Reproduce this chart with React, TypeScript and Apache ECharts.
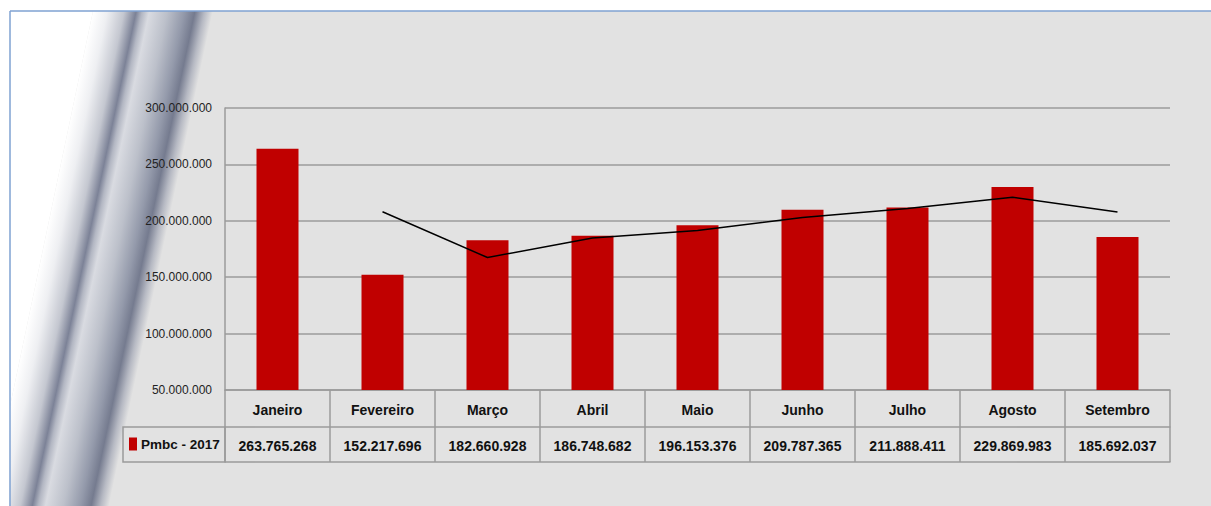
import React, { useEffect, useRef } from "react";
import * as echarts from "echarts";

const months = ["Janeiro", "Fevereiro", "Março", "Abril", "Maio", "Junho", "Julho", "Agosto", "Setembro"];
const seriesName = "Pmbc - 2017";
const pmbc2017 = [263765268, 152217696, 182660928, 186748682, 196153376, 209787365, 211888411, 229869983, 185692037];
// 2-period moving-average trendline
const trendLine = [null, 207990000, 167440000, 184700000, 191450000, 202970000, 210840000, 220880000, 207780000];
const yMin = 50000000;
const yMax = 300000000;
const yStep = 50000000;

const fmt = (n: number) => String(Math.round(n)).replace(/\B(?=(\d{3})+(?!\d))/g, ".");

const FONT = "'Liberation Sans', Arial, sans-serif";
const GRID = { left: 225, right: 1170, top: 108, bottom: 390 };
const ROW1 = 37;
const ROW2 = 72;
const W = 1211;
const H = 506;
const LINE = "#9b9b9b";
const BOLD_SIZE = 14;

export default function App() {
  const ref = useRef<HTMLDivElement>(null);
  useEffect(() => {
    if (!ref.current) return;
    const chart = echarts.init(ref.current, undefined, { renderer: "svg" });

    // decorative background band
    const s = 0.21;
    const bx = 93, by = 11, bw = 120;
    const dh = H - by;
    const gx2 = bx + bw / (1 + s * s);
    const gy2 = by + (bw * s) / (1 + s * s);
    const grad = new echarts.graphic.LinearGradient(
      bx, by, gx2, gy2,
      [
        { offset: 0, color: "#ffffff" },
        { offset: 0.12, color: "#eeeff2" },
        { offset: 0.26, color: "#c4c7d0" },
        { offset: 0.36, color: "#7c8297" },
        { offset: 0.41, color: "#b3b7c3" },
        { offset: 0.47, color: "#d9dbe1" },
        { offset: 0.62, color: "#bcc0ca" },
        { offset: 0.76, color: "#949aab" },
        { offset: 0.85, color: "#757b8f" },
        { offset: 0.93, color: "#b6b9c3" },
        { offset: 1, color: "#e2e2e2" },
      ],
      true
    );

    const option: any = {
      animation: false,
      textStyle: { fontFamily: FONT },
      graphic: [
        { type: "rect", z: -20, silent: true, shape: { x: 10, y: by, width: W - 10, height: dh }, style: { fill: "#e2e2e2" } },
        {
          type: "polygon", z: -19, silent: true,
          shape: { points: [[10, by], [bx, by], [bx - s * dh, H], [10, H]] },
          style: { fill: "#ffffff" },
        },
        {
          type: "polygon", z: -18, silent: true,
          shape: { points: [[bx, by], [bx + bw, by], [bx + bw - s * dh, H], [bx - s * dh, H]] },
          style: { fill: grad },
        },
        { type: "rect", z: -17, silent: true, shape: { x: 0, y: 0, width: 9.5, height: H }, style: { fill: "#ffffff" } },
        { type: "line", z: -16, silent: true, shape: { x1: 10, y1: by, x2: W, y2: by }, style: { stroke: "#7fa2d2", lineWidth: 1.5 } },
        { type: "line", z: -16, silent: true, shape: { x1: 10, y1: by, x2: 10, y2: H }, style: { stroke: "#7fa2d2", lineWidth: 1.5 } },
        {
          type: "rect", silent: true,
          shape: { x: 123, y: GRID.bottom + ROW1, width: GRID.left - 123, height: ROW2 - ROW1 },
          style: { fill: "none", stroke: LINE, lineWidth: 1.5 },
        },
      ],
      legend: {
        data: [seriesName],
        left: 129,
        top: GRID.bottom + ROW1 + 10,
        padding: 0,
        icon: "rect",
        itemWidth: 8,
        itemHeight: 13,
        itemGap: 4,
        textStyle: { fontFamily: FONT, fontWeight: "bold", fontSize: 13.5, color: "#111", padding: [0, 0, 0, -1] },
      },
      grid: { left: GRID.left, right: W - GRID.right, top: GRID.top, bottom: H - GRID.bottom, containLabel: false },
      xAxis: [
        {
          type: "category",
          data: months,
          position: "bottom",
          axisLine: { show: true, lineStyle: { color: LINE, width: 1.5 } },
          axisTick: { show: true, length: ROW2, lineStyle: { color: LINE, width: 1.5 } },
          axisLabel: { interval: 0, fontFamily: FONT, fontWeight: "bold", fontSize: BOLD_SIZE, color: "#111", margin: 20, verticalAlign: "middle" },
        },
        {
          type: "category",
          data: pmbc2017.map(fmt),
          position: "bottom",
          offset: ROW1,
          axisLine: { show: true, lineStyle: { color: LINE, width: 1.5 } },
          axisTick: { show: false },
          axisLabel: { interval: 0, fontFamily: FONT, fontWeight: "bold", fontSize: BOLD_SIZE, color: "#111", margin: 19, verticalAlign: "middle" },
        },
        {
          type: "category",
          data: months,
          position: "bottom",
          offset: ROW2,
          axisLine: { show: true, lineStyle: { color: LINE, width: 1.5 } },
          axisTick: { show: false },
          axisLabel: { show: false },
        },
      ],
      yAxis: {
        type: "value",
        min: yMin,
        max: yMax,
        interval: yStep,
        axisLine: { show: true, lineStyle: { color: LINE, width: 1.5 } },
        axisTick: { show: false },
        splitLine: { show: true, lineStyle: { color: LINE, width: 1.5 } },
        axisLabel: { formatter: (v: number) => fmt(v), fontFamily: FONT, fontSize: 12, color: "#222", margin: 13 },
      },
      series: [
        {
          name: seriesName,
          type: "bar",
          data: pmbc2017,
          barWidth: 42,
          itemStyle: { color: "#c00000" },
        },
        {
          name: "Média móvel",
          type: "line",
          data: trendLine,
          symbol: "none",
          lineStyle: { color: "#000000", width: 1.5 },
          z: 3,
        },
      ],
    };
    chart.setOption(option);
    return () => chart.dispose();
  }, []);
  return <div ref={ref} style={{ position: "absolute", left: 0, top: 0, width: W, height: H }} />;
}
